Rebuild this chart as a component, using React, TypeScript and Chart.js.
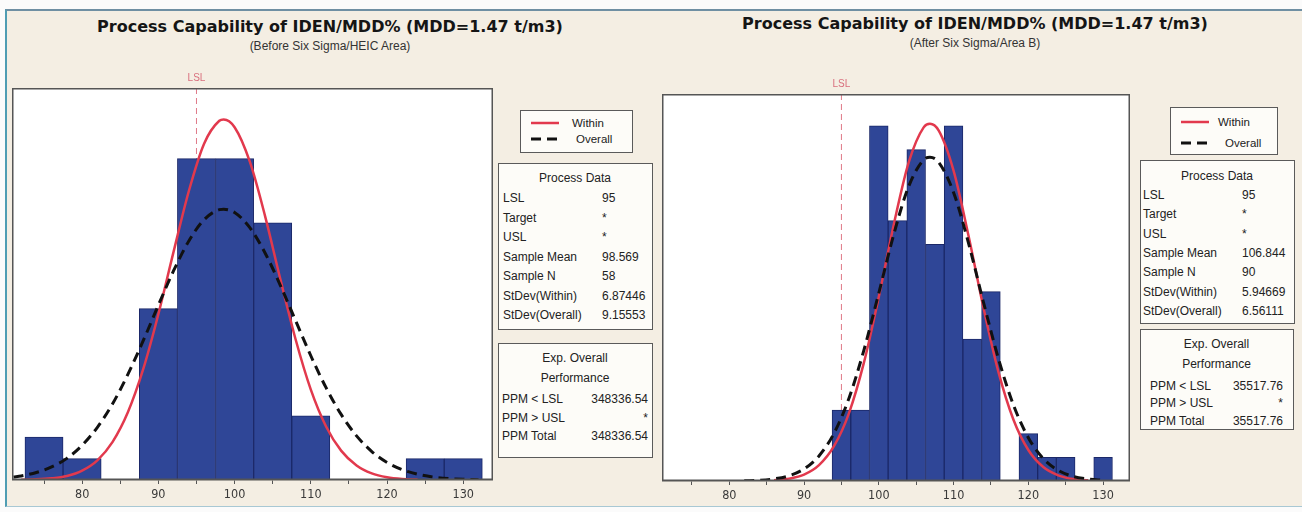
import React, { useEffect, useRef } from "react";
import { Chart, registerables } from "chart.js";

Chart.register(...registerables);

// ---------- data ----------
const tickValues = [75, 80, 85, 90, 95, 100, 105, 110, 115, 120, 125, 130];
const lsl = 95;

// Before (left)
const beforeBins = [75, 80, 90, 95, 100, 105, 110, 125, 130];
const beforeCounts = [2, 1, 8, 15, 15, 12, 3, 1, 1];
const beforeWithinX = [72, 74, 76, 78, 80, 82, 84, 86, 88, 90, 92, 94, 96, 98, 98.57, 100, 102, 104, 106, 108, 110, 112, 114, 116, 118, 120, 122, 124];
const beforeWithinY = [0.01, 0.03, 0.08, 0.19, 0.44, 0.92, 1.78, 3.16, 5.16, 7.74, 10.66, 13.49, 15.7, 16.77, 16.83, 16.47, 14.86, 12.32, 9.38, 6.57, 4.22, 2.5, 1.36, 0.68, 0.31, 0.13, 0.05, 0.02];
const beforeOverallX = [71, 72, 74, 76, 78, 80, 82, 84, 86, 88, 90, 92, 94, 96, 98, 98.57, 100, 102, 104, 106, 108, 110, 112, 114, 116, 118, 120, 122, 124, 126, 128, 130, 132];
const beforeOverallY = [0.14, 0.19, 0.35, 0.61, 1.01, 1.62, 2.46, 3.56, 4.93, 6.49, 8.16, 9.77, 11.16, 12.15, 12.62, 12.64, 12.49, 11.78, 10.6, 9.09, 7.44, 5.8, 4.31, 3.05, 2.06, 1.33, 0.82, 0.48, 0.27, 0.14, 0.07, 0.035, 0.016];

// After (right)
const afterBins = [95, 97.5, 100, 102.5, 105, 107.5, 110, 112.5, 115, 120, 122.5, 125, 130];
const afterCounts = [3, 3, 15, 11, 14, 10, 15, 6, 8, 2, 1, 1, 1];
const afterWithinX = [86, 88, 90, 92, 94, 96, 98, 100, 102, 104, 106, 106.84, 108, 110, 112, 114, 116, 118, 120, 122, 124, 126, 128];
const afterWithinY = [0.03, 0.1, 0.27, 0.67, 1.47, 2.86, 4.99, 7.78, 10.83, 13.46, 14.94, 15.09, 14.81, 13.11, 10.36, 7.32, 4.61, 2.6, 1.31, 0.59, 0.24, 0.08, 0.03];
const afterOverallX = [82, 84, 86, 88, 90, 92, 94, 96, 98, 100, 102, 104, 106, 106.84, 108, 110, 112, 114, 116, 118, 120, 122, 124, 126, 128, 130];
const afterOverallY = [0.01, 0.03, 0.09, 0.22, 0.51, 1.06, 2.01, 3.49, 5.52, 7.94, 10.42, 12.45, 13.57, 13.68, 13.47, 12.19, 10.05, 7.55, 5.17, 3.22, 1.83, 0.95, 0.45, 0.19, 0.08, 0.03];

const beforeProcessLabels = ["LSL", "Target", "USL", "Sample Mean", "Sample N", "StDev(Within)", "StDev(Overall)"];
const beforeProcessValues = ["95", "*", "*", "98.569", "58", "6.87446", "9.15553"];
const afterProcessValues = ["95", "*", "*", "106.844", "90", "5.94669", "6.56111"];
const perfLabels = ["PPM < LSL", "PPM > USL", "PPM Total"];
const beforePerfValues = ["348336.54", "*", "348336.54"];
const afterPerfValues = ["35517.76", "*", "35517.76"];

const titleText = "Process Capability of IDEN/MDD% (MDD=1.47 t/m3)";
const beforeSubtitle = "(Before Six Sigma/HEIC Area)";
const afterSubtitle = "(After Six Sigma/Area B)";

// ---------- styles ----------
const BAR_FILL = "#2f4697";
const BAR_EDGE = "#1b2868";
const RED = "#e2394d";
const BEIGE = "#f4eee3";
const TEXT_FONT = "'Liberation Sans', Arial, sans-serif";

type PlotProps = {
  left: number;
  top: number;
  width: number;
  height: number;
  padTop: number;
  axisH: number;
  xMin: number;
  xMax: number;
  yMax: number;
  bins: number[];
  counts: number[];
  wX: number[];
  wY: number[];
  oX: number[];
  oY: number[];
};

function Plot(p: PlotProps) {
  const ref = useRef<HTMLCanvasElement | null>(null);
  useEffect(() => {
    if (!ref.current) return;
    const framePlugin = {
      id: "frame",
      beforeDraw(chart: any) {
        const { ctx, chartArea } = chart;
        ctx.save();
        ctx.fillStyle = "#ffffff";
        ctx.fillRect(chartArea.left, chartArea.top, chartArea.right - chartArea.left, chartArea.bottom - chartArea.top);
        ctx.restore();
      },
      beforeDatasetsDraw(chart: any) {
        const { ctx, chartArea, scales } = chart;
        const x = scales.x.getPixelForValue(lsl);
        ctx.save();
        ctx.strokeStyle = "#e07a88";
        ctx.lineWidth = 1;
        ctx.setLineDash([6, 4]);
        ctx.beginPath();
        ctx.moveTo(x, chartArea.top);
        ctx.lineTo(x, chartArea.bottom);
        ctx.stroke();
        ctx.restore();
      },
      afterDraw(chart: any) {
        const { ctx, chartArea, scales } = chart;
        ctx.save();
        ctx.strokeStyle = "#555";
        ctx.lineWidth = 1.5;
        ctx.strokeRect(chartArea.left + 0.75, chartArea.top + 0.75, chartArea.right - chartArea.left - 1.5, chartArea.bottom - chartArea.top - 1.5);
        const x = scales.x.getPixelForValue(lsl);
        ctx.fillStyle = "#d9707e";
        ctx.font = "10px " + TEXT_FONT;
        ctx.textAlign = "center";
        ctx.textBaseline = "middle";
        ctx.fillText("LSL", x, chartArea.top - 10);
        ctx.restore();
      },
    };
    const chart = new Chart(ref.current, {
      type: "bar",
      data: {
        datasets: [
          {
            type: "line",
            label: "Overall",
            data: p.oX.map((x, i) => ({ x, y: p.oY[i] })),
            borderColor: "#111111",
            borderWidth: 3,
            borderDash: [10, 6],
            pointRadius: 0,
            cubicInterpolationMode: "monotone",
            fill: false,
          } as any,
          {
            type: "line",
            label: "Within",
            data: p.wX.map((x, i) => ({ x, y: p.wY[i] })),
            borderColor: RED,
            borderWidth: 2.5,
            pointRadius: 0,
            cubicInterpolationMode: "monotone",
            fill: false,
          } as any,
          {
            type: "bar",
            label: "Count",
            data: p.bins.map((x, i) => ({ x, y: p.counts[i] })),
            backgroundColor: BAR_FILL,
            borderColor: BAR_EDGE,
            borderWidth: 1,
            barPercentage: 1,
            categoryPercentage: 1,
          } as any,
        ],
      },
      options: {
        animation: false,
        responsive: false,
        maintainAspectRatio: false,
        layout: { padding: { top: p.padTop, left: 0, right: 0, bottom: 0 } },
        plugins: {
          legend: { display: false },
          tooltip: { enabled: false },
          title: { display: false },
        },
        scales: {
          x: {
            type: "linear",
            min: p.xMin,
            max: p.xMax,
            offset: false,
            afterBuildTicks: (s: any) => {
              s.ticks = tickValues.map((v) => ({ value: v }));
            },
            afterFit: (s: any) => {
              s.height = p.axisH;
            },
            ticks: {
              autoSkip: false,
              maxRotation: 0,
              padding: 3,
              color: "#3a3a3a",
              font: { family: "'DejaVu Sans Condensed', 'DejaVu Sans', sans-serif", size: 12.5 },
              callback: (v: any) => (Number(v) % 10 === 0 ? String(v) : ""),
            },
            grid: { drawOnChartArea: false, drawTicks: true, tickLength: 4, color: "#555", offset: false },
            border: { display: true, color: "#555", width: 1.5 },
          },
          y: { display: false, min: 0, max: p.yMax },
        },
      } as any,
      plugins: [framePlugin],
    });
    return () => chart.destroy();
  }, []);
  return (
    <canvas
      ref={ref}
      width={p.width}
      height={p.height}
      style={{ position: "absolute", left: p.left, top: p.top, width: p.width, height: p.height }}
    />
  );
}

function Legend({ left, top, w, h, y1, y2, lineX, textX1, textX2 }: any) {
  return (
    <div
      style={{
        position: "absolute", left, top, width: w, height: h, boxSizing: "border-box",
        border: "1.5px solid #5a5a5a", background: "#fdfcf8", fontFamily: TEXT_FONT, fontSize: 11.5, color: "#222",
      }}
    >
      <svg width={w} height={h} style={{ position: "absolute", left: -1.5, top: -1.5 }}>
        <line x1={lineX} x2={lineX + 28} y1={y1} y2={y1} stroke={RED} strokeWidth={2.5} />
        <line x1={lineX} x2={lineX + 28} y1={y2} y2={y2} stroke="#111" strokeWidth={3} strokeDasharray="10 6" />
      </svg>
      <div style={{ position: "absolute", left: textX1, top: y1 - 9, lineHeight: "16px" }}>Within</div>
      <div style={{ position: "absolute", left: textX2, top: y2 - 9, lineHeight: "16px" }}>Overall</div>
    </div>
  );
}

function ProcessBox({ left, top, w, h, titleY, rowY, rowH, labelX, valueX, values }: any) {
  return (
    <div
      style={{
        position: "absolute", left, top, width: w, height: h, boxSizing: "border-box",
        border: "1.5px solid #5a5a5a", background: "#fdfcf8", fontFamily: TEXT_FONT, fontSize: 12, color: "#222",
      }}
    >
      <div style={{ position: "absolute", left: 0, width: w - 3, top: titleY - 8, lineHeight: "16px", textAlign: "center" }}>Process Data</div>
      {beforeProcessLabels.map((l, i) => (
        <React.Fragment key={l}>
          <div style={{ position: "absolute", left: labelX, top: rowY + i * rowH - 8, lineHeight: "16px", whiteSpace: "nowrap" }}>{l}</div>
          <div style={{ position: "absolute", left: valueX, top: rowY + i * rowH - 8, lineHeight: "16px", whiteSpace: "nowrap" }}>{values[i]}</div>
        </React.Fragment>
      ))}
    </div>
  );
}

function PerfBox({ left, top, w, h, ys, labelX, valueR, values }: any) {
  return (
    <div
      style={{
        position: "absolute", left, top, width: w, height: h, boxSizing: "border-box",
        border: "1.5px solid #5a5a5a", background: "#fdfcf8", fontFamily: TEXT_FONT, fontSize: 12, color: "#222",
      }}
    >
      <div style={{ position: "absolute", left: 0, width: w - 3, top: ys[0] - 8, lineHeight: "16px", textAlign: "center" }}>Exp. Overall</div>
      <div style={{ position: "absolute", left: 0, width: w - 3, top: ys[1] - 8, lineHeight: "16px", textAlign: "center" }}>Performance</div>
      {perfLabels.map((l, i) => (
        <React.Fragment key={l}>
          <div style={{ position: "absolute", left: labelX, top: ys[i + 2] - 8, lineHeight: "16px", whiteSpace: "nowrap" }}>{l}</div>
          <div style={{ position: "absolute", right: w - 3 - valueR, top: ys[i + 2] - 8, lineHeight: "16px", whiteSpace: "nowrap" }}>{values[i]}</div>
        </React.Fragment>
      ))}
    </div>
  );
}

function Titles({ cx, y1, y2, sub }: any) {
  return (
    <>
      <div
        style={{
          position: "absolute", left: cx - 320, width: 640, top: y1 - 10, lineHeight: "20px", textAlign: "center",
          fontFamily: "'DejaVu Sans', sans-serif", fontWeight: "bold", fontSize: 16, color: "#151515", whiteSpace: "nowrap",
        }}
      >
        {titleText}
      </div>
      <div
        style={{
          position: "absolute", left: cx - 200, width: 400, top: y2 - 8, lineHeight: "16px", textAlign: "center",
          fontFamily: TEXT_FONT, fontSize: 12, color: "#333", whiteSpace: "nowrap",
        }}
      >
        {sub}
      </div>
    </>
  );
}

export default function App() {
  return (
    <div style={{ position: "absolute", left: 0, top: 0, width: 1302, height: 512, background: "#fbfbfb", overflow: "hidden" }}>
      <div
        style={{
          position: "absolute", left: 5, top: 9, width: 1300, height: 498, boxSizing: "border-box", background: BEIGE,
          borderLeft: "2px solid #4f9db3", borderTop: "2px solid #6f8fa3", borderBottom: "1px solid #a8c8d4",
        }}
      />
      <Titles cx={330} y1={27} y2={46} sub={beforeSubtitle} />
      <Titles cx={975} y1={24} y2={43} sub={afterSubtitle} />

      <Plot
        left={12} top={70} width={481} height={442} padTop={18} axisH={32}
        xMin={70.8} xMax={133.9} yMax={18.3}
        bins={beforeBins} counts={beforeCounts}
        wX={beforeWithinX} wY={beforeWithinY} oX={beforeOverallX} oY={beforeOverallY}
      />
      <Plot
        left={662} top={76} width={468} height={436} padTop={18} axisH={31}
        xMin={71} xMax={133.6} yMax={16.35}
        bins={afterBins} counts={afterCounts}
        wX={afterWithinX} wY={afterWithinY} oX={afterOverallX} oY={afterOverallY}
      />

      <Legend left={520} top={110} w={113} h={43} y1={13} y2={29} lineX={11} textX1={51} textX2={55} />
      <ProcessBox left={498} top={163} w={155} h={167} titleY={14} rowY={34} rowH={19.5} labelX={4} valueX={103} values={beforeProcessValues} />
      <PerfBox left={498} top={343} w={155} h={115} ys={[14, 34, 55, 74, 92]} labelX={3} valueR={148} values={beforePerfValues} />

      <Legend left={1170} top={107} w={108} h={48} y1={15} y2={36} lineX={11} textX1={47} textX2={54} />
      <ProcessBox left={1140} top={160} w={155} h={164} titleY={15} rowY={34} rowH={19.3} labelX={2} valueX={101} values={afterProcessValues} />
      <PerfBox left={1140} top={329} w={154} h={101} ys={[14, 34, 56, 73, 91]} labelX={9} valueR={141} values={afterPerfValues} />
    </div>
  );
}
